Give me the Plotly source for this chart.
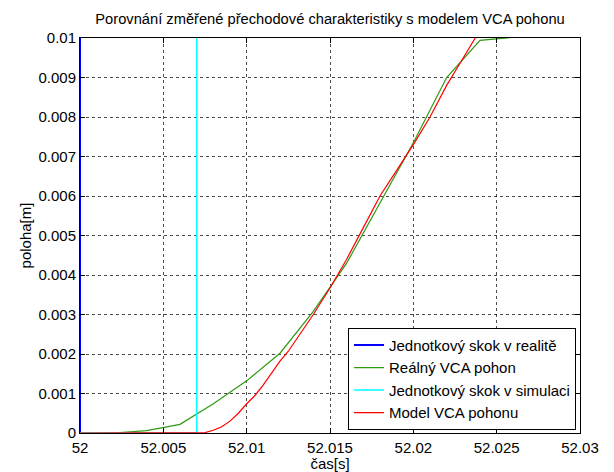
import plotly.graph_objects as go

# Unit step applied in the real drive (jump to 1, clipped by the axis range)
step_real_t = [51.99, 52.0, 52.0, 52.04]
step_real_y = [0.0, 0.0, 1.0, 1.0]

# Measured response of the real VCA drive
real_t = [52.000, 52.002, 52.004, 52.006, 52.008, 52.010, 52.012, 52.014,
          52.016, 52.018, 52.020, 52.022, 52.024, 52.026]
real_y = [0.0, 0.0, 0.00006, 0.00022, 0.00074, 0.00132, 0.00202, 0.00308,
          0.00430, 0.00582, 0.00735, 0.00900, 0.00994, 0.01002]

# Unit step applied in the simulation
step_sim_t = [52.0, 52.007, 52.007, 52.04]
step_sim_y = [0.0, 0.0, 1.0, 1.0]

# Simulated response of the VCA drive model
model_t = [52.000, 52.007, 52.0075, 52.008, 52.0085, 52.009, 52.0095, 52.010,
           52.0105, 52.011, 52.0115, 52.012, 52.0125, 52.013, 52.0135, 52.014,
           52.015, 52.016, 52.017, 52.018, 52.019, 52.020, 52.021, 52.022,
           52.023, 52.024]
model_y = [0.0, 0.0, 0.00001, 0.00007, 0.00016, 0.00030, 0.00050, 0.00074,
           0.00095, 0.00122, 0.00152, 0.00182, 0.00207, 0.00237, 0.00268, 0.00300,
           0.00367, 0.00440, 0.00520, 0.00600, 0.00665, 0.00730, 0.00800, 0.00880,
           0.00950, 0.01020]

x_ticks = [52.0, 52.005, 52.01, 52.015, 52.02, 52.025, 52.03]
x_tick_text = ["52", "52.005", "52.01", "52.015", "52.02", "52.025", "52.03"]
y_ticks = [0.0, 0.001, 0.002, 0.003, 0.004, 0.005, 0.006, 0.007, 0.008, 0.009, 0.01]
y_tick_text = ["0", "0.001", "0.002", "0.003", "0.004", "0.005", "0.006",
               "0.007", "0.008", "0.009", "0.01"]

FONT = "Liberation Sans, Arial, sans-serif"
FS = 15
FS_TITLE = 14.7
FS_LEGEND = 15

fig = go.Figure()
fig.add_trace(go.Scatter(x=step_real_t, y=step_real_y, mode="lines",
                         line=dict(color="#0000ff", width=2),
                         name="Jednotkový skok v realitě"))
fig.add_trace(go.Scatter(x=real_t, y=real_y, mode="lines",
                         line=dict(color="#2e9a12", width=1.2),
                         name="Reálný VCA pohon"))
fig.add_trace(go.Scatter(x=step_sim_t, y=step_sim_y, mode="lines",
                         line=dict(color="#00ffff", width=1.5),
                         name="Jednotkový skok v simulaci"))
fig.add_trace(go.Scatter(x=model_t, y=model_y, mode="lines",
                         line=dict(color="#ff0000", width=1.2),
                         name="Model VCA pohonu"))

axis_common = dict(
    showline=True, linecolor="black", linewidth=1, mirror="ticks",
    ticks="inside", ticklen=5, tickcolor="black", automargin=False,
    showgrid=True, gridcolor="rgba(0,0,0,0.7)", griddash="dot", gridwidth=1,
    zeroline=False, tickfont=dict(family=FONT, size=FS, color="black"),
)

fig.update_xaxes(range=[52.0, 52.03], tickvals=x_ticks, ticktext=x_tick_text,
                 ticklabelstandoff=1,
                 title=dict(text="čas[s]", font=dict(family=FONT, size=FS, color="black"),
                            standoff=4),
                 **axis_common)
fig.update_yaxes(range=[0.0, 0.01], tickvals=y_ticks, ticktext=y_tick_text,
                 title=dict(text="poloha[m]", font=dict(family=FONT, size=FS, color="black"),
                            standoff=3),
                 **axis_common)

fig.update_layout(
    width=614, height=472,
    margin=dict(l=80, r=34, t=38, b=39, autoexpand=False),
    paper_bgcolor="white", plot_bgcolor="white",
    font=dict(family=FONT, size=FS, color="black"),
    title=dict(text="Porovnání změřené přechodové charakteristiky s modelem VCA pohonu",
               xref="paper", x=0.5, xanchor="center", y=0.97, yanchor="top",
               font=dict(family=FONT, size=FS_TITLE, color="black")),
    legend=dict(x=0.992, xanchor="right", y=0.008, yanchor="bottom",
                bgcolor="white", bordercolor="black", borderwidth=1,
                font=dict(family=FONT, size=FS_LEGEND, color="black")),
    showlegend=True,
)

fig.write_html("out.html")
